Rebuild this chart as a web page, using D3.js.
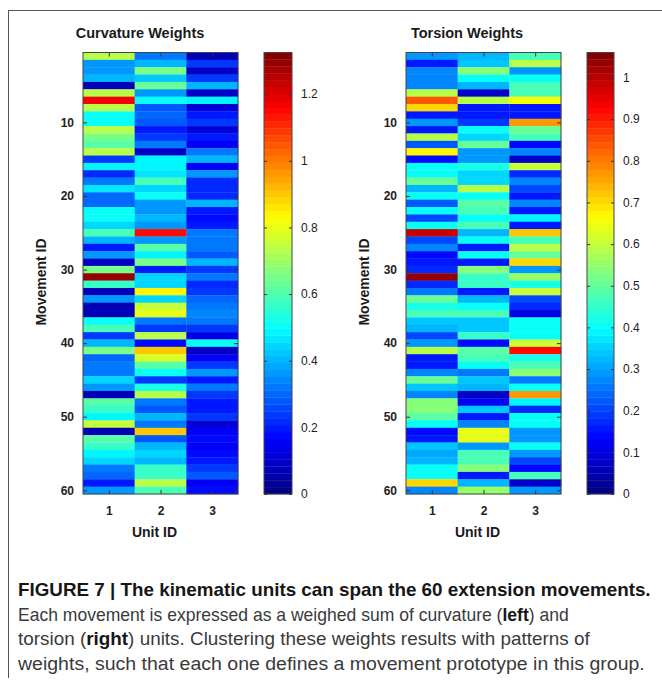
<!DOCTYPE html>
<html>
<head>
<meta charset="utf-8">
<script src="https://cdn.jsdelivr.net/npm/d3@7"></script>
<style>
  body { margin: 0; background: #fff; }
  svg { display: block; }
  .ax text { font-family: "Liberation Sans", Arial, sans-serif; font-size: 12px; font-weight: bold; fill: #222; }
  .cbax text { font-weight: normal; font-size: 12px; }
  .ax line { stroke: #333; }
  .ax path { display: none; }
</style>
</head>
<body>
<div id="chart"></div>
<script>
// 60 movements, 3 units each
var movementIds = d3.range(1, 61);
var unitIds = [1, 2, 3];

var curvUnit1 = [0.74,0.37,0.37,0.40,0.07,0.74,1.16,0.74,0.50,0.50, 0.74,0.66,0.62,0.74,0.23,0.49,0.21,0.33,0.46,0.29,
                 0.29,0.50,0.50,0.44,0.60,0.40,0.20,0.36,0.09,0.66, 1.30,0.56,0.08,0.36,0.08,0.08,0.50,0.58,0.23,0.40,
                 0.66,0.29,0.33,0.33,0.44,0.37,0.08,0.62,0.57,0.48, 0.76,0.07,0.62,0.56,0.49,0.44,0.33,0.29,0.20,0.36];
var curvUnit2 = [0.33,0.40,0.66,0.42,0.64,0.36,0.50,0.27,0.29,0.27, 0.20,0.23,0.33,0.09,0.49,0.49,0.46,0.60,0.44,0.50,
                 0.36,0.36,0.40,0.37,1.15,0.36,0.61,0.48,0.66,0.20, 0.44,0.44,0.83,0.44,0.76,0.80,0.33,0.23,0.73,0.17,
                 0.90,0.77,0.62,0.50,0.23,0.53,0.73,0.32,0.27,0.40, 0.33,0.90,0.27,0.40,0.45,0.40,0.56,0.56,0.73,0.60];
var curvUnit3 = [0.08,0.23,0.09,0.24,0.40,0.09,0.48,0.11,0.20,0.23, 0.11,0.19,0.16,0.33,0.40,0.16,0.37,0.21,0.21,0.21,
                 0.40,0.20,0.17,0.20,0.33,0.33,0.33,0.27,0.40,0.24, 0.32,0.21,0.24,0.29,0.32,0.34,0.33,0.24,0.13,0.50,
                 0.09,0.16,0.23,0.37,0.20,0.32,0.23,0.20,0.19,0.24, 0.11,0.16,0.17,0.15,0.17,0.19,0.23,0.27,0.16,0.17];

var torsUnit1 = [0.29,0.15,0.27,0.27,0.27,0.58,0.83,0.71,0.16,0.29, 0.16,0.58,0.23,0.67,0.14,0.40,0.40,0.50,0.32,0.40,
                 0.23,0.40,0.21,0.40,0.99,0.21,0.27,0.14,0.16,0.18, 1.03,0.18,0.25,0.51,0.42,0.47,0.34,0.32,0.21,0.29,
                 0.58,0.16,0.16,0.27,0.50,0.34,0.27,0.53,0.53,0.49, 0.40,0.14,0.16,0.34,0.30,0.32,0.40,0.40,0.70,0.27];
var torsUnit2 = [0.32,0.34,0.53,0.40,0.32,0.07,0.58,0.16,0.16,0.19, 0.40,0.35,0.50,0.29,0.29,0.42,0.35,0.35,0.58,0.40,
                 0.49,0.47,0.40,0.48,0.32,0.40,0.16,0.40,0.15,0.53, 0.46,0.45,0.16,0.32,0.40,0.48,0.34,0.34,0.45,0.14,
                 0.49,0.48,0.40,0.25,0.34,0.32,0.07,0.13,0.34,0.16, 0.27,0.64,0.64,0.29,0.48,0.48,0.53,0.16,0.32,0.55];
var torsUnit3 = [0.48,0.58,0.29,0.40,0.48,0.47,0.66,0.16,0.16,0.77, 0.51,0.47,0.14,0.27,0.08,0.60,0.18,0.27,0.21,0.15,
                 0.27,0.15,0.39,0.16,0.72,0.48,0.58,0.50,0.71,0.29, 0.56,0.42,0.61,0.21,0.18,0.11,0.40,0.40,0.40,0.61,
                 0.92,0.42,0.48,0.53,0.25,0.40,0.77,0.39,0.18,0.40, 0.40,0.29,0.29,0.40,0.29,0.21,0.14,0.47,0.07,0.29];

var curvColorTicks = [0, 0.2, 0.4, 0.6, 0.8, 1, 1.2];
var torsColorTicks = [0, 0.1, 0.2, 0.3, 0.4, 0.5, 0.6, 0.7, 0.8, 0.9, 1];
var movementTicks = [10, 20, 30, 40, 50, 60];
var curvMax = 1.325, torsMax = 1.06;

var W = 662, H = 683;
var svg = d3.select("#chart").append("svg").attr("width", W).attr("height", H);

// matlab-like jet, 64 levels
function jet(t) {
  var k = Math.min(63, Math.max(0, Math.floor(t * 64)));
  var s = (k + 0.5) / 64;
  function c(v) { return Math.round(255 * Math.max(0, Math.min(1, v))); }
  var r = Math.min(4 * s - 1.5, -4 * s + 4.5);
  var g = Math.min(4 * s - 0.5, -4 * s + 3.5);
  var b = Math.min(4 * s + 0.5, -4 * s + 2.5);
  return d3.rgb(c(r), c(g), c(b)).toString();
}

// frame
svg.append("line").attr("x1", 8).attr("x2", W).attr("y1", 10.5).attr("y2", 10.5).attr("stroke", "#555");
svg.append("line").attr("x1", 8.5).attr("x2", 8.5).attr("y1", 10).attr("y2", 678).attr("stroke", "#555");

function panel(cfg) {
  var top = 52.5, bottom = 494;
  var x = d3.scaleLinear().domain([0.5, 3.5]).range([cfg.left, cfg.right]);
  var y = d3.scaleLinear().domain([0.5, 60.5]).range([top, bottom]);
  var color = function(v) { return jet(v / cfg.max); };
  var g = svg.append("g");

  var cells = [];
  cfg.cols.forEach(function(col, ci) {
    col.forEach(function(v, ri) { cells.push({unit: unitIds[ci], mov: movementIds[ri], v: v}); });
  });
  g.selectAll("rect.cell").data(cells).enter().append("rect")
    .attr("class", "cell")
    .attr("x", function(d) { return x(d.unit - 0.5); })
    .attr("y", function(d) { return y(d.mov - 0.5); })
    .attr("width", function(d) { return x(d.unit + 0.5) - x(d.unit - 0.5) + 0.3; })
    .attr("height", function(d) { return y(d.mov + 0.5) - y(d.mov - 0.5) + 0.3; })
    .attr("fill", function(d) { return color(d.v); });

  g.append("g").attr("class", "ax").attr("transform", "translate(" + cfg.left + ",0)")
    .call(d3.axisLeft(y).tickValues(movementTicks).tickSize(-4).tickPadding(9));
  g.append("g").attr("class", "ax").attr("transform", "translate(" + cfg.right + ",0)")
    .call(d3.axisRight(y).tickValues(movementTicks).tickSize(-4).tickFormat(""));
  g.append("g").attr("class", "ax").attr("transform", "translate(0," + bottom + ")")
    .call(d3.axisBottom(x).tickValues(unitIds).tickSize(-4).tickPadding(12).tickFormat(d3.format("d")));
  g.append("g").attr("class", "ax").attr("transform", "translate(0," + top + ")")
    .call(d3.axisTop(x).tickValues(unitIds).tickSize(-4).tickFormat(""));
  g.append("rect").attr("x", cfg.left).attr("y", top)
    .attr("width", cfg.right - cfg.left).attr("height", bottom - top)
    .attr("fill", "none").attr("stroke", "#444").attr("stroke-width", 1);

  g.append("text").attr("x", cfg.titleX).attr("y", 38).attr("text-anchor", "middle")
    .style("font", "bold 14.5px 'Liberation Sans', Arial, sans-serif").attr("fill", "#1a1a1a")
    .text(cfg.title);
  g.append("text").attr("x", (cfg.left + cfg.right) / 2 - 6).attr("y", 537).attr("text-anchor", "middle")
    .style("font", "bold 14px 'Liberation Sans', Arial, sans-serif").attr("fill", "#1a1a1a")
    .text("Unit ID");
  g.append("text").attr("transform", "translate(" + (cfg.left - 37) + ",282) rotate(-90)")
    .attr("text-anchor", "middle")
    .style("font", "bold 14px 'Liberation Sans', Arial, sans-serif").attr("fill", "#1a1a1a")
    .text("Movement ID");

  // colorbar
  var cb = d3.scaleLinear().domain([0, cfg.max]).range([bottom, top]);
  var steps = d3.range(64);
  g.selectAll("rect.cb").data(steps).enter().append("rect")
    .attr("class", "cb")
    .attr("x", cfg.cbLeft).attr("width", cfg.cbRight - cfg.cbLeft)
    .attr("y", function(i) { return cb((i + 1) / 64 * cfg.max); })
    .attr("height", function(i) { return cb(i / 64 * cfg.max) - cb((i + 1) / 64 * cfg.max) + 0.3; })
    .attr("fill", function(i) { return jet((i + 0.5) / 64); });
  g.append("g").attr("class", "ax cbax").attr("transform", "translate(" + cfg.cbRight + ",0)")
    .call(d3.axisRight(cb).tickValues(cfg.ticks).tickSize(-3).tickPadding(9).tickFormat(d3.format("~g")));
  g.append("g").attr("class", "ax").attr("transform", "translate(" + cfg.cbLeft + ",0)")
    .call(d3.axisLeft(cb).tickValues(cfg.ticks).tickSize(-3).tickFormat(""));
  g.append("rect").attr("x", cfg.cbLeft).attr("y", top)
    .attr("width", cfg.cbRight - cfg.cbLeft).attr("height", bottom - top)
    .attr("fill", "none").attr("stroke", "#444");
}

panel({ left: 83, right: 238, cols: [curvUnit1, curvUnit2, curvUnit3], max: curvMax,
        title: "Curvature Weights", titleX: 140, cbLeft: 264, cbRight: 292, ticks: curvColorTicks });
panel({ left: 406, right: 561, cols: [torsUnit1, torsUnit2, torsUnit3], max: torsMax,
        title: "Torsion Weights", titleX: 467, cbLeft: 587, cbRight: 614, ticks: torsColorTicks });

// caption: condensed look by squeezing each line horizontally to its width in the reference
var capFont = "'Liberation Sans', Arial, sans-serif";
var capLines = [
  { len: 633, bold: true, parts: [["FIGURE 7 | The kinematic units can span the 60 extension movements.", true]] },
  { len: 551, parts: [["Each movement is expressed as a weighed sum of curvature (", false], ["left", true], [") and", false]] },
  { len: 572, parts: [["torsion (", false], ["right", true], [") units. Clustering these weights results with patterns of", false]] },
  { len: 627, parts: [["weights, such that each one defines a movement prototype in this group.", false]] }
];
capLines.forEach(function(line, i) {
  var t = svg.append("text").attr("x", 0).attr("y", 0)
    .style("font-family", capFont).style("font-size", "18px");
  line.parts.forEach(function(p) {
    t.append("tspan").style("font-weight", p[1] ? "bold" : "normal")
      .attr("fill", (p[1] ? "#161616" : "#3a3a3a")).text(p[0]);
  });
  var natural = t.node().getComputedTextLength();
  t.attr("transform", "translate(18," + (596 + i * 24.7) + ") scale(" + (line.len / natural) + ",1)");
});
</script>
</body>
</html>
